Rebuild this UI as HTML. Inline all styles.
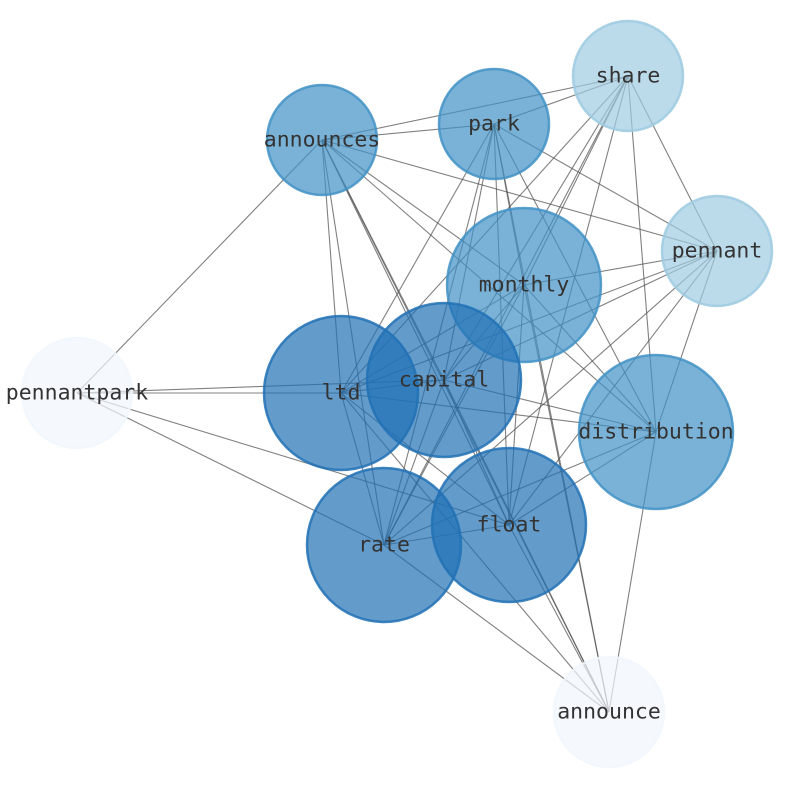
<!DOCTYPE html>
<html><head><meta charset="utf-8"><style>html,body{margin:0;padding:0;background:#fff}svg{display:block}</style></head>
<body>
<svg id="g" width="794" height="790" xmlns="http://www.w3.org/2000/svg">
<g id="edges" stroke="#555" stroke-opacity="0.75" stroke-width="1.1"></g>
<g id="nodes" stroke-width="2.5"></g>
<g font-family="DejaVu Sans Mono, Liberation Mono, monospace" font-size="21.5" fill="#333" text-anchor="middle" dominant-baseline="central">
<text x="628" y="76">share</text>
<text x="494" y="124">park</text>
<text x="322" y="140">announces</text>
<text x="717" y="251">pennant</text>
<text x="524" y="285">monthly</text>
<text x="77" y="393">pennantpark</text>
<text x="341" y="393">ltd</text>
<text x="444" y="380">capital</text>
<text x="656" y="432">distribution</text>
<text x="509" y="525">float</text>
<text x="384" y="545">rate</text>
<text x="609" y="712">announce</text>
</g>
</svg>
<script>
var N={share:[628,76,55,'#9ecae1'],park:[494,124,55,'#4292c6'],announces:[322,140,55,'#4292c6'],pennant:[717,251,55,'#9ecae1'],monthly:[524,285,77,'#4292c6'],pennantpark:[77,393,55,'#f1f7fd'],ltd:[341,393,77,'#2171b5'],capital:[444,380,77,'#2171b5'],distribution:[656,432,77,'#4292c6'],float:[509,525,77,'#2171b5'],rate:[384,545,77,'#2171b5'],announce:[609,712,55,'#f1f7fd']};
var pp=['announces','ltd','capital','float','rate'];
var skip={'share-announce':1,'pennant-announce':1};
var k=Object.keys(N),e=document.getElementById('edges'),n=document.getElementById('nodes'),ns='http://www.w3.org/2000/svg';
for(var i=0;i<k.length;i++)for(var j=i+1;j<k.length;j++){var a=k[i],b=k[j];
if(skip[a+'-'+b]||skip[b+'-'+a])continue;
if(a=='pennantpark'||b=='pennantpark'){var o=a=='pennantpark'?b:a;if(pp.indexOf(o)<0)continue;}
var l=document.createElementNS(ns,'line');l.setAttribute('x1',N[a][0]);l.setAttribute('y1',N[a][1]);l.setAttribute('x2',N[b][0]);l.setAttribute('y2',N[b][1]);e.appendChild(l);}
k.forEach(function(x){var c=document.createElementNS(ns,'circle');c.setAttribute('cx',N[x][0]);c.setAttribute('cy',N[x][1]);c.setAttribute('r',N[x][2]);c.setAttribute('fill',N[x][3]);c.setAttribute('stroke',N[x][3]);c.setAttribute('fill-opacity','0.7');c.setAttribute('stroke-opacity','0.85');n.appendChild(c);});
</script>
</body></html>
